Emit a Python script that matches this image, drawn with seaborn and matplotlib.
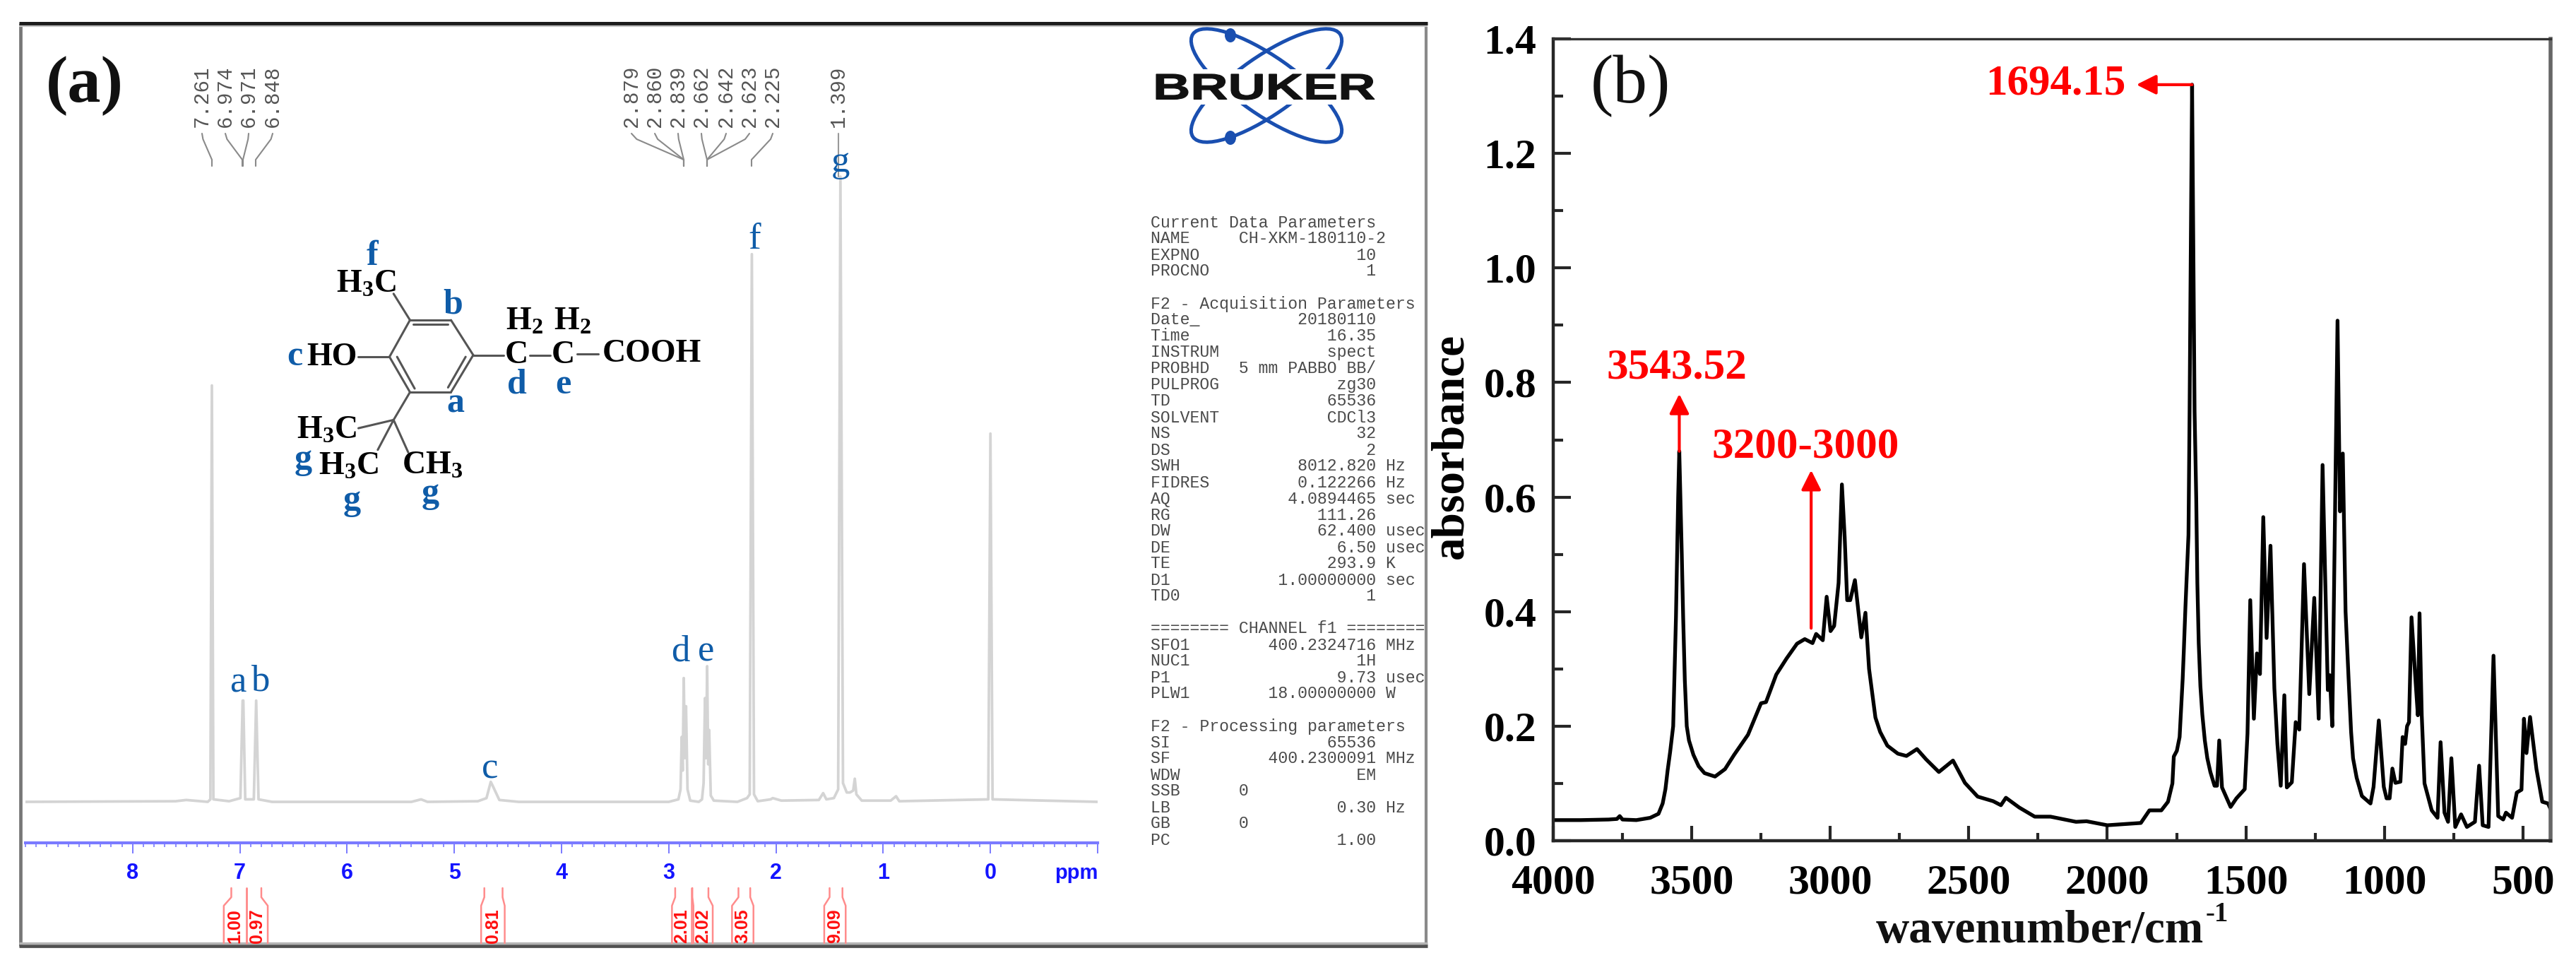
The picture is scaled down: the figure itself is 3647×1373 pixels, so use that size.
import numpy as np
import pandas as pd
import matplotlib
matplotlib.use("Agg")
import matplotlib.pyplot as plt
import seaborn as sns
from matplotlib.patches import Ellipse, PathPatch, Rectangle
from matplotlib.path import Path
from matplotlib.textpath import TextPath
from matplotlib.font_manager import FontProperties
from matplotlib.transforms import Affine2D, blended_transform_factory
from matplotlib.ticker import MultipleLocator

# ---- FTIR spectrum, panel (b) ----
ir_wavenumber = [4000, 3900, 3800, 3770, 3760, 3750, 3700, 3650, 3620, 3605, 3595, 3587, 3578, 3567, 3557, 3549, 3545,
                 3541, 3536, 3531, 3525, 3518, 3510, 3494, 3475, 3454, 3416, 3380, 3347, 3297, 3250, 3232, 3195, 3158, 3120, 3092, 3064,
                 3051, 3027, 3013, 2999, 2986, 2970, 2958, 2948, 2939, 2928, 2911, 2888, 2873, 2860, 2837, 2820, 2794,
                 2756, 2725, 2687, 2654, 2608, 2557, 2514, 2468, 2412, 2384, 2366, 2318, 2262, 2205, 2113, 2075,
                 2000, 1879, 1848, 1805, 1781, 1765, 1760, 1749, 1739, 1728, 1724, 1718, 1707, 1703, 1700, 1694, 1688, 1685, 1679,
                 1675, 1670, 1664, 1657, 1648, 1639, 1628, 1613, 1604, 1596, 1586, 1555, 1534, 1504, 1494, 1484, 1471, 1460, 1449, 1437,
                 1425, 1411, 1397, 1386, 1374, 1361, 1352, 1334, 1320, 1307, 1290, 1271, 1253, 1237, 1223, 1204,
                 1197, 1188, 1169, 1160, 1150, 1140, 1129, 1120, 1113, 1100, 1081, 1050, 1039, 1020, 1002, 992, 981, 971, 960,
                 942, 934, 925, 918, 911, 902, 887, 879, 873, 865, 855, 829, 808, 797, 783, 770,
                 758, 744, 723, 702, 673, 658, 645, 624, 606, 589, 571, 561, 539, 522, 505, 496,
                 487, 474, 451, 430, 409, 400]
ir_absorbance = [0.036, 0.036, 0.037, 0.038, 0.043, 0.037, 0.036, 0.040, 0.047, 0.065, 0.090, 0.123, 0.155, 0.200, 0.390, 0.600, 0.680,
                 0.600, 0.500, 0.390, 0.280, 0.200, 0.175, 0.150, 0.130, 0.118, 0.112, 0.125, 0.150, 0.185, 0.240, 0.242, 0.290, 0.318, 0.344, 0.352, 0.345,
                 0.361, 0.350, 0.426, 0.366, 0.375, 0.450, 0.622, 0.530, 0.420, 0.420, 0.455, 0.355, 0.398, 0.300, 0.215, 0.190, 0.166,
                 0.152, 0.148, 0.160, 0.142, 0.120, 0.140, 0.101, 0.077, 0.069, 0.062, 0.075, 0.058, 0.042, 0.042, 0.033, 0.034,
                 0.027, 0.031, 0.053, 0.053, 0.068, 0.100, 0.147, 0.157, 0.181, 0.282, 0.330, 0.408, 0.534, 0.750, 0.950, 1.320, 0.950, 0.750, 0.597,
                 0.450, 0.345, 0.270, 0.220, 0.175, 0.144, 0.120, 0.096, 0.096, 0.175, 0.093, 0.059, 0.074, 0.090, 0.187, 0.420, 0.213, 0.327, 0.291, 0.565,
                 0.354, 0.515, 0.266, 0.169, 0.096, 0.254, 0.093, 0.102, 0.207, 0.194, 0.483, 0.256, 0.424, 0.213, 0.656, 0.263,
                 0.289, 0.200, 0.908, 0.575, 0.676, 0.400, 0.282, 0.190, 0.144, 0.110, 0.078, 0.065, 0.094, 0.210, 0.094, 0.074, 0.074, 0.126, 0.101,
                 0.103, 0.181, 0.169, 0.200, 0.207, 0.390, 0.276, 0.219, 0.397, 0.219, 0.100, 0.053, 0.040, 0.172, 0.049, 0.033,
                 0.144, 0.024, 0.046, 0.024, 0.033, 0.131, 0.027, 0.024, 0.323, 0.043, 0.037, 0.049, 0.040, 0.084, 0.089, 0.213,
                 0.153, 0.216, 0.125, 0.068, 0.065, 0.055]
ir_ticks_x = [4000, 3500, 3000, 2500, 2000, 1500, 1000, 500]
ir_ticks_y = [0.0, 0.2, 0.4, 0.6, 0.8, 1.0, 1.2, 1.4]

# ---- 1H NMR spectrum, panel (a) ----
nmr_ppm = [9.0, 7.6, 7.5, 7.3, 7.275, 7.261, 7.247, 7.1, 6.995, 6.974, 6.968, 6.95, 6.87, 6.848, 6.826, 6.7,
           5.4, 5.31, 5.25, 4.78, 4.70, 4.66, 4.64, 4.58, 4.4, 3.0, 2.91, 2.89, 2.879, 2.87, 2.86, 2.85,
           2.839, 2.825, 2.80, 2.72, 2.69, 2.675, 2.662, 2.652, 2.642, 2.632, 2.623, 2.608, 2.58, 2.36, 2.27, 2.245,
           2.225, 2.205, 2.17, 2.05, 2.03, 1.95, 1.6, 1.56, 1.53, 1.46, 1.42, 1.399, 1.375, 1.34, 1.31, 1.28,
           1.265, 1.25, 1.2, 0.93, 0.88, 0.85, 0.02, 0.0, -0.02, -1.0]
nmr_height = [0.0, 0.001, 0.003, 0.0, 0.004, 0.666, 0.004, 0.001, 0.006, 0.162, 0.162, 0.004, 0.004, 0.162, 0.004, 0.0,
              0.0, 0.004, 0.0, 0.001, 0.006, 0.032, 0.025, 0.003, 0.0, 0.0, 0.004, 0.02, 0.104, 0.05, 0.198, 0.07,
              0.153, 0.02, 0.002, 0.0, 0.004, 0.03, 0.166, 0.07, 0.217, 0.06, 0.115, 0.01, 0.002, 0.0, 0.006, 0.012,
              0.876, 0.012, 0.001, 0.004, 0.006, 0.002, 0.003, 0.014, 0.004, 0.006, 0.02, 1.0, 0.03, 0.015, 0.015, 0.018,
              0.037, 0.012, 0.002, 0.002, 0.009, 0.001, 0.004, 0.589, 0.004, 0.0]
nmr_ticks = [8, 7, 6, 5, 4, 3, 2, 1, 0]

peak_labels = ["7.261", "6.974", "6.971", "6.848", "2.879", "2.860", "2.839", "2.662", "2.642", "2.623", "2.225", "1.399"]
peak_label_x = [286, 319, 352, 386, 894, 927, 960, 993, 1028, 1061, 1094, 1187]
peak_target_x = [300, 343, 344, 362, 968, 968, 968, 1001, 1001, 1001, 1064, 1187]

integral_values = ["1.00", "0.97", "0.81", "2.01", "2.02", "3.05", "9.09"]
integral_top_ppm = [(7.08, 6.94), (6.94, 6.80), (4.72, 4.55), (2.94, 2.79), (2.78, 2.63), (2.35, 2.24), (1.50, 1.38)]
integral_box_ppm = [(7.15, 6.94), (6.94, 6.74), (4.75, 4.53), (2.97, 2.79), (2.77, 2.59), (2.41, 2.21), (1.55, 1.35)]

param_lines = [
    "Current Data Parameters",
    "NAME     CH-XKM-180110-2",
    "EXPNO                10",
    "PROCNO                1",
    "",
    "F2 - Acquisition Parameters",
    "Date_          20180110",
    "Time              16.35",
    "INSTRUM           spect",
    "PROBHD   5 mm PABBO BB/",
    "PULPROG            zg30",
    "TD                65536",
    "SOLVENT           CDCl3",
    "NS                   32",
    "DS                    2",
    "SWH            8012.820 Hz",
    "FIDRES         0.122266 Hz",
    "AQ            4.0894465 sec",
    "RG               111.26",
    "DW               62.400 usec",
    "DE                 6.50 usec",
    "TE                293.9 K",
    "D1           1.00000000 sec",
    "TD0                   1",
    "",
    "======== CHANNEL f1 ========",
    "SFO1        400.2324716 MHz",
    "NUC1                 1H",
    "P1                 9.73 usec",
    "PLW1        18.00000000 W",
    "",
    "F2 - Processing parameters",
    "SI                65536",
    "SF          400.2300091 MHz",
    "WDW                  EM",
    "SSB      0",
    "LB                 0.30 Hz",
    "GB       0",
    "PC                 1.00",
]

W, H = 3648, 1373
BLUE = "#0f5ca8"

sns.set_theme(style="ticks")
plt.rcParams["font.family"] = ["Liberation Serif", "DejaVu Sans"]
plt.rcParams["mathtext.fontset"] = "custom"
plt.rcParams["mathtext.bf"] = "Liberation Serif:bold"
plt.rcParams["mathtext.rm"] = "Liberation Serif"


def rect_px(left, top, right, bottom):
    return [left / W, 1 - bottom / H, (right - left) / W, (bottom - top) / H]


fig = plt.figure(figsize=(W / 100, H / 100), dpi=100, facecolor="white")

# ---- panel (a) spectrum ----
ax_a = fig.add_axes(rect_px(36, 33, 1554, 1193), facecolor="none")
nmr_df = pd.DataFrame({"ppm": nmr_ppm, "height": nmr_height})
sns.lineplot(data=nmr_df, x="ppm", y="height", estimator=None, sort=False, color="#d4d4d4", lw=2.7, ax=ax_a)
ax_a.set_xlim(9, -1)
ax_a.set_ylim(-58 / 885, 1102 / 885)
ax_a.set_xlabel("")
ax_a.set_ylabel("")
ax_a.set_yticks([])
for side in ["left", "right", "top"]:
    ax_a.spines[side].set_visible(False)
ax_a.spines["bottom"].set_color("#7a7aff")
ax_a.spines["bottom"].set_linewidth(3)
ax_a.set_xticks(nmr_ticks + [-1])
ax_a.set_xticklabels([str(t) for t in nmr_ticks] + [""], family="Liberation Sans", fontweight="bold", fontsize=22, color="#1414ff")
ax_a.xaxis.set_minor_locator(MultipleLocator(0.1))
ax_a.tick_params(axis="x", which="major", length=11, width=1.4, color="#7a7aff", pad=9)
ax_a.tick_params(axis="x", which="minor", length=4.5, width=1.2, color="#7a7aff")

# ---- panel (b) spectrum ----
ax_b = fig.add_axes(rect_px(2199, 55, 3611, 1190), facecolor="none")
ir_df = pd.DataFrame({"wavenumber": ir_wavenumber, "absorbance": ir_absorbance})
sns.lineplot(data=ir_df, x="wavenumber", y="absorbance", estimator=None, sort=False, color="black", lw=3.8, ax=ax_b)
ax_b.set_xlim(4000, 400)
ax_b.set_ylim(0, 1.4)
ax_b.set_xticks(ir_ticks_x)
ax_b.set_yticks(ir_ticks_y)
ax_b.set_yticklabels([f"{t:.1f}" for t in ir_ticks_y])
ax_b.xaxis.set_minor_locator(MultipleLocator(250))
ax_b.yaxis.set_minor_locator(MultipleLocator(0.1))
ax_b.tick_params(axis="x", which="major", direction="in", length=15, width=3, pad=24)
ax_b.tick_params(axis="x", which="minor", direction="in", length=8, width=3)
ax_b.tick_params(axis="y", which="major", direction="in", length=18, width=3, pad=17)
ax_b.tick_params(axis="y", which="minor", direction="in", length=10, width=3)
for lab in ax_b.get_xticklabels() + ax_b.get_yticklabels():
    lab.set_fontsize(43)
    lab.set_fontweight("bold")
    lab.set_color("black")
ax_b.spines["left"].set_linewidth(3.2)
ax_b.spines["bottom"].set_linewidth(3.2)
ax_b.spines["top"].set_linewidth(2.4)
ax_b.spines["top"].set_color("#333333")
ax_b.spines["right"].set_linewidth(4)
ax_b.spines["right"].set_color("#666666")
ax_b.set_xlabel("")
ax_b.set_ylabel("")

red_arrow = dict(arrowstyle="-|>", color="#ff0000", lw=3, mutation_scale=42, shrinkA=0, shrinkB=0)
ax_b.annotate("", xy=(3545, 0.78), xytext=(3545, 0.68), arrowprops=red_arrow)
ax_b.annotate("", xy=(3069, 0.647), xytext=(3069, 0.371), arrowprops=red_arrow)
ax_b.annotate("", xy=(1895, 1.32), xytext=(1694, 1.32), arrowprops=red_arrow)

# ---- everything placed by pixel on top ----
ov = fig.add_axes([0, 0, 1, 1], facecolor="none")
ov.set_xlim(0, W)
ov.set_ylim(H, 0)
ov.axis("off")

# frame of (a)
ov.plot([29, 29], [33, 1339], color="#777777", lw=3.4, solid_capstyle="butt")
ov.plot([2019, 2019], [33, 1339], color="#8a8a8a", lw=3, solid_capstyle="butt")
ov.plot([27, 2021], [33, 33], color="#1c1c1c", lw=3.6, solid_capstyle="butt")
ov.plot([27, 2021], [37, 37], color="#c4c4c4", lw=1.6, solid_capstyle="butt")
ov.plot([27, 2021], [1339, 1339], color="#505050", lw=3.4, solid_capstyle="butt")
ov.plot([27, 2021], [1335, 1335], color="#b4b4b4", lw=2.4, solid_capstyle="butt")

ov.text(120, 122, "(a)", fontsize=68, fontweight="bold", ha="center", va="center", color="#111111")
ov.text(2308, 122, "(b)", fontsize=70, ha="center", va="center", color="#111111")

# peak labels and leaders
for lab, lx, tx in zip(peak_labels, peak_label_x, peak_target_x):
    ov.text(lx, 136, lab, rotation=90, family="Liberation Mono", fontsize=21, color="#555555", ha="center", va="center")
    if lab == "1.399":
        ov.plot([lx, lx], [189, 250], color="#999999", lw=1.5)
    else:
        ov.plot([lx, lx + (tx - lx) * 0.1, tx, tx], [189, 197, 226, 235], color="#8a8a8a", lw=1.5)

# assignments on the peaks
for txt, x, y in [("a", 337, 967), ("b", 368, 965), ("c", 694, 1088), ("d", 963, 922), ("e", 1000, 923), ("f", 1068, 339), ("g", 1190, 230)]:
    ov.text(x, y, txt, fontsize=38, color=BLUE, ha="center", va="center")

ov.text(1524, 1236, "ppm", family="Liberation Sans", fontweight="bold", fontsize=21, color="#1414ff", ha="center", va="center")

# integrals
ppm_y = blended_transform_factory(ax_a.transData, ov.transData)
for val, (t0, t1), (b0, b1) in zip(integral_values, integral_top_ppm, integral_box_ppm):
    for tp, bp in [(t0, b0), (t1, b1)]:
        ov.plot([tp, tp, bp, bp], [1257, 1270, 1282, 1335], color="#ff8c8c", lw=1.8, transform=ppm_y)
    ov.text((b0 + b1) / 2, 1335, val, rotation=90, family="Liberation Sans", fontweight="bold", fontsize=18,
            color="#ff1010", ha="center", va="bottom", transform=ppm_y)


# structure, coordinates
def sx(x):
    return x / 1.206


def sy(y):
    return y / 1.96


bonds = [[(700, 888), (770, 888)], [(770, 888), (808, 985)], [(808, 985), (770, 1088)], [(770, 1088), (700, 1088)],
         [(700, 1088), (665, 990)], [(665, 990), (700, 888)], [(705, 900), (765, 900)], [(678, 990), (708, 1078)],
         [(795, 990), (765, 1075)], [(700, 888), (672, 815)], [(612, 990), (665, 990)], [(808, 985), (860, 985)],
         [(905, 985), (940, 985)], [(985, 982), (1022, 982)], [(700, 1088), (672, 1165)], [(672, 1165), (612, 1188)],
         [(672, 1165), (645, 1248)], [(672, 1165), (697, 1255)]]
for (x0, y0), (x1, y1) in bonds:
    ov.plot([sx(x0), sx(x1)], [sy(y0), sy(y1)], color="#555555", lw=2.2)

for txt, x, y in [(r"$\mathbf{H_3C}$", 625, 790), ("HO", 567, 992), ("COOH", 1113, 982), ("C", 882, 985), ("C", 962, 985),
                  (r"$\mathbf{H_2}$", 895, 893), (r"$\mathbf{H_2}$", 977, 893), (r"$\mathbf{H_3C}$", 558, 1195),
                  (r"$\mathbf{H_3C}$", 595, 1295), (r"$\mathbf{CH_3}$", 738, 1293)]:
    ov.text(sx(x), sy(y), txt, fontsize=33, fontweight="bold", color="black", ha="center", va="center")
for txt, x, y in [("f", 635, 712), ("b", 773, 845), ("c", 503, 990), ("d", 883, 1068), ("e", 962, 1068), ("a", 778, 1120),
                  ("g", 518, 1275), ("g", 601, 1390), ("g", 735, 1370)]:
    ov.text(sx(x), sy(y), txt, fontsize=36, fontweight="bold", color=BLUE, ha="center", va="center")

# Bruker logo
logo_blue = "#1a4fb0"
for ang in [35, -35]:
    ov.add_patch(Ellipse((1793, 121), 254, 82, angle=ang, fill=False, ec=logo_blue, lw=3.6))
ov.add_patch(Rectangle((1630, 98), 325, 50, fc="white", ec="none", zorder=3))
for cx, cy in [(1742, 50), (1742, 195)]:
    ov.add_patch(Ellipse((cx, cy), 16, 20, fc=logo_blue, ec="none"))
tp = TextPath((0, 0), "BRUKER", size=100, prop=FontProperties(family="Liberation Sans", weight="bold"))
bb = tp.get_extents()
scale_x = (1946 - 1637) / bb.width
scale_y = (141 - 105) / bb.height
logo_tf = Affine2D().translate(-bb.x0, -bb.y0).scale(scale_x, -scale_y).translate(1637, 141)
ov.add_patch(PathPatch(logo_tf.transform_path(Path(tp.vertices, tp.codes)), fc="#111111", ec="#111111", lw=0.8, zorder=4))

# acquisition parameters
for i, line in enumerate(param_lines):
    ov.text(1629, 315 + 23 * i, line, family="Liberation Mono", fontsize=16.7, color="#4a4a4a", ha="left", va="center")

# labels of (b)
ov.text(2374, 520, "3543.52", fontsize=44, fontweight="bold", color="#ff0000", ha="center", va="center")
ov.text(2556, 633, "3200-3000", fontsize=44, fontweight="bold", color="#ff0000", ha="center", va="center")
ov.text(2910, 118, "1694.15", fontsize=44, fontweight="bold", color="#ff0000", ha="center", va="center")
ov.text(2054, 631, "absorbance", rotation=90, fontsize=47, fontweight="bold", color="black", ha="center", va="center")
ov.text(2888, 1318, "wavenumber/cm", fontsize=47, fontweight="bold", color="#111111", ha="center", va="center")
ov.text(3139, 1294, "-1", fontsize=28, fontweight="bold", color="#111111", ha="center", va="center")

fig.savefig("out.png", dpi=100)
